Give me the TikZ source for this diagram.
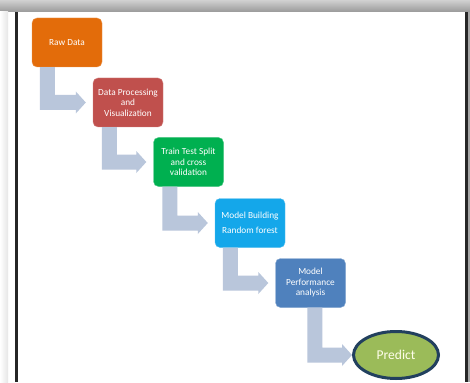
\documentclass[tikz,border=0pt]{standalone}
\usepackage{fontspec}
\setmainfont{Carlito}
\usetikzlibrary{calc,shapes.geometric}
\definecolor{cOrange}{HTML}{E36C0A}
\definecolor{cRed}{HTML}{C0504D}
\definecolor{cGreen}{HTML}{00B050}
\definecolor{cCyan}{HTML}{14A7EA}
\definecolor{cBlue}{HTML}{4F81BD}
\definecolor{cOlive}{HTML}{9BBB59}
\definecolor{cNavy}{HTML}{22405E}
\definecolor{cArrow}{HTML}{B9C6DB}
\tikzset{
  stepbox/.style={rectangle, rounded corners=5pt, minimum width=70pt, minimum height=49pt,
    inner sep=1pt, align=center, text=white, font=\fontsize{9.3}{10.5}\selectfont},
  arrowc/.style={fill=cArrow},
}
\newcommand\bentarrow[4]{%
  \fill[arrowc] ($(#1.south west)+(#3,0)$) |- ($(#2.west)+({-#4-10},7.5)$) -- ++(0,3.5)
    -- ($(#2.west)+(-#4,0)$) -- ($(#2.west)+({-#4-10},-11)$) -- ++(0,3.5)
    -| ($(#1.south west)+({#3+15},0)$) -- cycle;}
\begin{document}
\begin{tikzpicture}[x=1pt,y=-1pt]
\useasboundingbox (0,0) rectangle (470,382);
\fill[white] (0,0) rectangle (470,382);
% frame
\shade[top color=black!18, bottom color=black!40] (0,0) rectangle (470,12);
\shade[left color=white, right color=black!10] (0,12) rectangle (8,382);
\fill[black!85] (15,12) rectangle (17.5,382);
\fill[black!85] (465,12) rectangle (467.5,382);
\fill[black!35] (467.5,12) rectangle (470,382);
% nodes
\node[stepbox, fill=cOrange, draw=cOrange!70!white] (raw) at (67,42.5) {Raw Data};
\node[stepbox, fill=cRed, draw=cRed!70!white] (proc) at (128,102.5) {Data Processing\\and\\Visualization};
\node[stepbox, fill=cGreen, draw=cGreen!70!white] (split) at (188.5,162) {Train Test Split\\and cross\\validation};
\node[stepbox, fill=cCyan, draw=cCyan!70!white, font=\fontsize{9.3}{15}\selectfont] (build) at (250,223) {Model Building\\Random forest};
\node[stepbox, fill=cBlue, draw=cBlue!70!white] (perf) at (310.5,283) {Model\\Performance\\analysis};
\node[ellipse, fill=cOlive, draw=cNavy, line width=3pt, minimum width=85pt, minimum height=47pt,
  text=white!92!yellow, font=\fontsize{13.5}{15}\selectfont] (pred) at (396,355) {Predict};
% connectors
\bentarrow{raw}{proc}{8}{7}
\bentarrow{proc}{split}{9}{7}
\bentarrow{split}{build}{9}{7}
\bentarrow{build}{perf}{8}{7}
\bentarrow{perf}{pred}{32}{0}
\end{tikzpicture}
\end{document}
